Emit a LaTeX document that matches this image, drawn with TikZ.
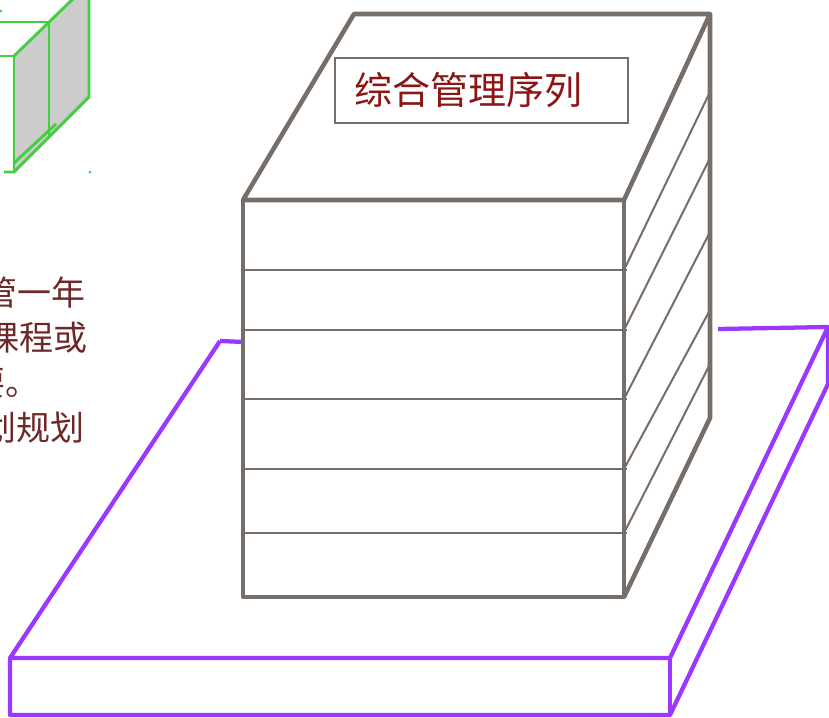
\documentclass[tikz,border=0pt]{standalone}
\usepackage{fontspec}
\newfontfamily\cjk{Noto Sans CJK SC}
\usetikzlibrary{positioning}
\definecolor{boxgray}{RGB}{117,110,105}
\definecolor{baseviolet}{RGB}{155,56,255}
\definecolor{cubegreen}{RGB}{64,208,64}
\definecolor{labelred}{RGB}{140,22,22}
\definecolor{notebrown}{RGB}{110,40,40}

\begin{document}
\begin{tikzpicture}[x=0.75pt,y=-0.75pt,
	edge/.style={boxgray, line width=3.4pt, line join=round},
	shelf/.style={boxgray, line width=1.5pt},
	base/.style={baseviolet, line width=3.2pt, line join=round},
	cube/.style={cubegreen, line width=2.2pt},
	note/.style={notebrown, font=\cjk\fontsize{25.5}{34}\selectfont, anchor=east, inner sep=0pt},
	labelbox/.style={draw=boxgray, line width=1.5pt, fill=white, text=labelred,
		font=\cjk\fontsize{28.5}{30}\selectfont, minimum width=220pt, minimum height=48.75pt,
		text width=190pt, align=left, inner xsep=15pt}]

	\useasboundingbox (0,0) rectangle (829,718);

	% platform
	\draw[base] (220,341) -- (244,342);
	\draw[base] (718,329) -- (828,327);
	\draw[base] (220,341) -- (10,658) -- (670,658) -- (828,327) -- (828,384) -- (670,715) -- (10,715) -- (10,658);
	\draw[base] (670,658) -- (670,715);

	% stack corners
	\coordinate (fl) at (243,200);
	\coordinate (fr) at (624,200);
	\coordinate (bl) at (354,14);
	\coordinate (br) at (710,14);
	\coordinate (fbl) at (243,597);
	\coordinate (fbr) at (624,597);
	\coordinate (bbr) at (710,418);

	\fill[white] (fl) -- (bl) -- (br) -- (bbr) -- (fbr) -- (fbl) -- cycle;

	% layers
	\foreach \y/\z in {270/92, 330/158, 399/232, 469/310, 533/364} {
		\draw[shelf] (243,\y) -- (627,\y);
		\draw[shelf] (624,\y) -- (710,\z);
	}

	\draw[edge] (fl) -- (bl) -- (br) -- (fr) -- cycle;
	\draw[edge] (fl) -- (fbl) -- (fbr) -- (fr);
	\draw[edge] (br) -- (bbr) -- (fbr);

	\node[labelbox] (title) at (481.5,90.5) {综合管理序列};

	% small cube, top left
	\begin{scope}
		\clip (0,0) rectangle (100,180);
		\fill[black!20] (14,56) -- (72,0) -- (89,0) -- (89,97) -- (14,172) -- cycle;
		\draw[cube] (0,22) -- (49,22) -- (49,137);
		\draw[cube] (0,56) -- (14,56) -- (14,172);
		\draw[cube] (14,56) -- (78,-6);
		\draw[cube] (89,0) -- (89,97) -- (14,172) -- (4,172);
		\draw[cube] (14,163) -- (56,124);
		\fill[cubegreen] (1,11) circle (1.5) (90,172) circle (1.5);
	\end{scope}

	% note text
	\begin{scope}
		\clip (0,260) rectangle (100,450);
		\node[note] (n1) at (86,293) {管一年};
		\node[note] (n2) at (88,338) {课程或};
		\node[note] (n3) at (40,383) {要。};
		\node[note] (n4) at (85,428) {划规划};
	\end{scope}
\end{tikzpicture}
\end{document}
